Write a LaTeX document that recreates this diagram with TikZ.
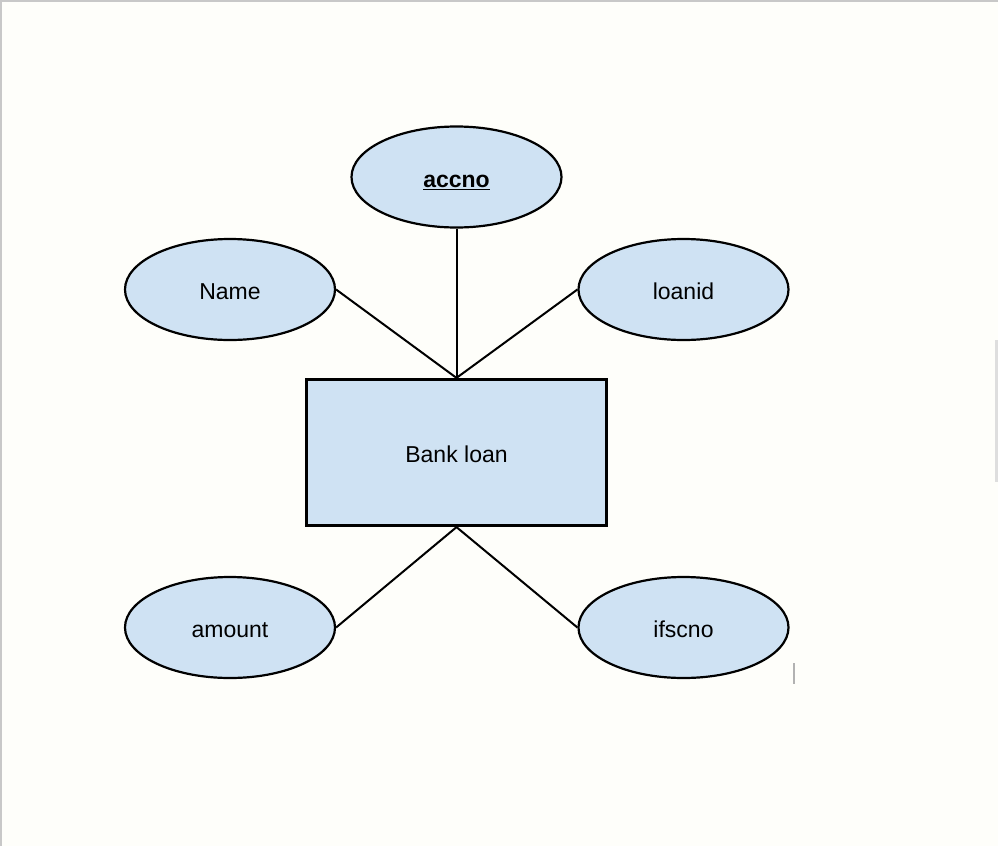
\documentclass[tikz,border=0pt]{standalone}
\usepackage{fontspec}
\setmainfont{Liberation Sans}
\usetikzlibrary{shapes.geometric}
\definecolor{bg}{HTML}{FEFEFA}
\definecolor{lblue}{HTML}{CFE2F3}
\definecolor{edge}{HTML}{C8C8C8}
\tikzset{
  txt/.style={text height=20.5pt, text depth=0pt, font=\fontsize{23}{27}\selectfont},
  attr/.style={ellipse, draw=black, line width=2.2pt, fill=lblue, minimum width=210pt, minimum height=101pt, inner sep=0pt, txt},
  entity/.style={rectangle, draw=black, line width=3.2pt, fill=lblue, minimum width=300pt, minimum height=146pt, inner sep=0pt, txt},
  link/.style={line width=2pt, black}
}
\begin{document}
\begin{tikzpicture}[x=1pt,y=-1pt]
\useasboundingbox (0,0) rectangle (998,846);
\fill[bg] (0,0) rectangle (998,846);
\fill[edge] (0,0) rectangle (998,1.5);
\fill[edge] (0,0) rectangle (1.5,846);
\fill[edge!60] (995,340) rectangle (998,482);
\fill[gray!60] (792.5,663) rectangle (794.5,684);
\node[entity] (loan) at (456.5,452.5) {Bank loan};
\node[attr] (accno) at (456.5,177) {\textbf{\underline{accno}}};
\node[attr] (name) at (230,289.5) {Name};
\node[attr] (loanid) at (683.5,289.5) {loanid};
\node[attr] (amount) at (230,627.5) {amount};
\node[attr] (ifscno) at (683.5,627.5) {ifscno};
\draw[link] (accno.south) -- (loan.north);
\draw[link] (name.east) -- (loan.north);
\draw[link] (loanid.west) -- (loan.north);
\draw[link] (amount.east) -- (loan.south);
\draw[link] (ifscno.west) -- (loan.south);
\end{tikzpicture}
\end{document}
